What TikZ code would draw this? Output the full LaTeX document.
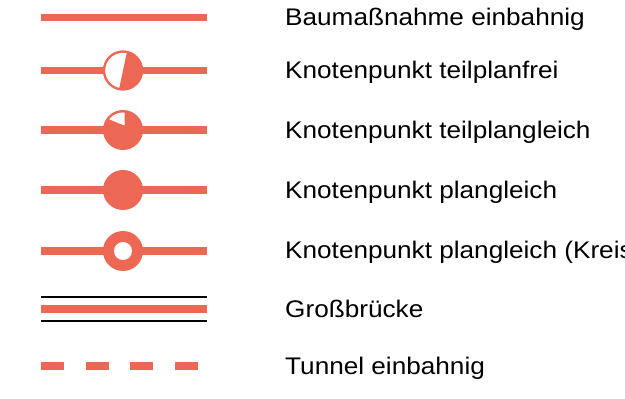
\documentclass[tikz,border=0pt]{standalone}
\usepackage{fontspec}
\setmainfont{Liberation Sans}[FakeStretch=1.09]
\usepackage{xcolor}
\usetikzlibrary{calc}
\definecolor{bahnrot}{RGB}{236,104,84}

\begin{document}
\begin{tikzpicture}[
  x=1pt,y=1pt,
  font=\fontsize{24}{28}\selectfont,
  trasse/.style={draw=bahnrot,line width=7.5pt},
  knoten/.style={draw=bahnrot,line width=2pt,circle,minimum size=38pt,inner sep=0pt},
  label/.style={anchor=base west,inner sep=0pt}
]
\path[use as bounding box,clip] (0,0) rectangle (625,399);

% Baumassnahme einbahnig
\coordinate (a1) at (41,381.5);
\coordinate (b1) at (207,381.5);
\draw[trasse] (a1) -- (b1);
\node[label] (bau) at (285,373) {Baumaßnahme einbahnig};

% Knotenpunkt teilplanfrei
\coordinate (a2) at (41,328.5);
\coordinate (b2) at (207,328.5);
\draw[trasse] (a2) -- (b2);
\node[knoten,fill=white] (kfrei) at (123,328.5) {};
\fill[bahnrot] ($(kfrei)+(78:19)$) arc[start angle=78,end angle=-102,radius=19] -- cycle;
\draw[bahnrot,line width=2pt] (kfrei) circle (19);
\node[label] (frei) at (285,320) {Knotenpunkt teilplanfrei};

% Knotenpunkt teilplangleich
\coordinate (a3) at (41,269);
\coordinate (b3) at (207,269);
\draw[trasse] (a3) -- (b3);
\node[knoten,fill=bahnrot] (kteil) at (123,269) {};
\begin{scope}
  \clip (kteil) circle (17.5);
  \fill[white] ($(kteil)+(1.5,4.5)$) -- ++(89:40) -- ($(kteil)+(1.5,4.5)+(158:40)$) -- cycle;
\end{scope}
\node[label] (teil) at (285,260) {Knotenpunkt teilplangleich};

% Knotenpunkt plangleich
\coordinate (a4) at (41,209);
\coordinate (b4) at (207,209);
\draw[trasse] (a4) -- (b4);
\node[knoten,fill=bahnrot] (kplan) at (123,209) {};
\node[label] (plan) at (285,200) {Knotenpunkt plangleich};

% Knotenpunkt plangleich (Kreisel)
\coordinate (a5) at (41,148);
\coordinate (b5) at (207,148);
\draw[trasse] (a5) -- (b5);
\node[knoten,fill=bahnrot] (kkreis) at (123,148) {};
\fill[white] (kkreis) circle (9);
\node[label] (kreis) at (285,140) {Knotenpunkt plangleich (Kreisel)};

% Grossbruecke
\coordinate (a6) at (41,90);
\coordinate (b6) at (207,90);
\draw[trasse] (a6) -- (b6);
\draw[line width=1.5pt] ($(a6)+(0,12)$) -- ($(b6)+(0,12)$);
\draw[line width=1.5pt] ($(a6)+(0,-12)$) -- ($(b6)+(0,-12)$);
\node[label] (bruecke) at (285,81) {Großbrücke};

% Tunnel einbahnig
\coordinate (a7) at (41,33);
\coordinate (b7) at (200,33);
\draw[trasse,dash pattern=on 23pt off 21.5pt] (a7) -- (b7);
\node[label] (tunnel) at (285,24) {Tunnel einbahnig};
\end{tikzpicture}
\end{document}
